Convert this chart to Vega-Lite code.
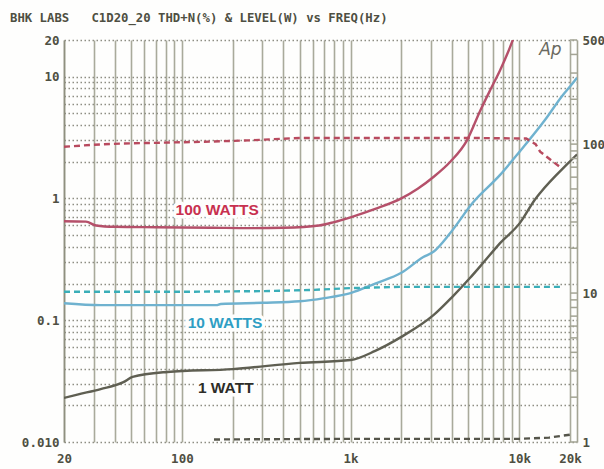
{
  "$schema": "https://vega.github.io/schema/vega-lite/v6.json",
  "width": 513,
  "height": 402,
  "autosize": {"type": "none"},
  "padding": {"left": 64, "top": 40, "right": 27, "bottom": 27},
  "background": "#fefefd",
  "title": {
    "text": "BHK LABS\u00a0\u00a0\u00a0C1D20_20 THD+N(%) & LEVEL(W) vs FREQ(Hz)",
    "anchor": "start",
    "frame": "group",
    "dx": -54,
    "offset": 10,
    "font": "DejaVu Sans Mono",
    "fontSize": 12.3,
    "fontWeight": "bold",
    "color": "#4e4f42"
  },
  "config": {
    "view": {"stroke": null},
    "axis": {
      "labelFont": "DejaVu Sans Mono",
      "labelFontSize": 12.5,
      "labelFontWeight": "bold",
      "labelColor": "#4e4f42",
      "ticks": false,
      "title": null,
      "labelOverlap": false
    }
  },
  "datasets": {
    "thd": [
      {"f": 20, "v": 0.65, "s": "100 W"},
      {"f": 27, "v": 0.645, "s": "100 W"},
      {"f": 31, "v": 0.6, "s": "100 W"},
      {"f": 40, "v": 0.585, "s": "100 W"},
      {"f": 70, "v": 0.58, "s": "100 W"},
      {"f": 150, "v": 0.575, "s": "100 W"},
      {"f": 250, "v": 0.57, "s": "100 W"},
      {"f": 400, "v": 0.575, "s": "100 W"},
      {"f": 650, "v": 0.6, "s": "100 W"},
      {"f": 800, "v": 0.64, "s": "100 W"},
      {"f": 1000, "v": 0.7, "s": "100 W"},
      {"f": 1400, "v": 0.82, "s": "100 W"},
      {"f": 2000, "v": 1.0, "s": "100 W"},
      {"f": 2500, "v": 1.2, "s": "100 W"},
      {"f": 3100, "v": 1.5, "s": "100 W"},
      {"f": 3900, "v": 2.0, "s": "100 W"},
      {"f": 4900, "v": 3.0, "s": "100 W"},
      {"f": 5850, "v": 5.2, "s": "100 W"},
      {"f": 6800, "v": 8, "s": "100 W"},
      {"f": 7700, "v": 11.3, "s": "100 W"},
      {"f": 8600, "v": 16, "s": "100 W"},
      {"f": 9400, "v": 22, "s": "100 W"},
      {"f": 20, "v": 0.138, "s": "10 W"},
      {"f": 33, "v": 0.133, "s": "10 W"},
      {"f": 100, "v": 0.133, "s": "10 W"},
      {"f": 160, "v": 0.133, "s": "10 W"},
      {"f": 170, "v": 0.136, "s": "10 W"},
      {"f": 300, "v": 0.139, "s": "10 W"},
      {"f": 500, "v": 0.143, "s": "10 W"},
      {"f": 700, "v": 0.152, "s": "10 W"},
      {"f": 1000, "v": 0.167, "s": "10 W"},
      {"f": 1400, "v": 0.2, "s": "10 W"},
      {"f": 2000, "v": 0.245, "s": "10 W"},
      {"f": 2700, "v": 0.33, "s": "10 W"},
      {"f": 3100, "v": 0.365, "s": "10 W"},
      {"f": 3900, "v": 0.52, "s": "10 W"},
      {"f": 5300, "v": 0.92, "s": "10 W"},
      {"f": 7700, "v": 1.56, "s": "10 W"},
      {"f": 10000, "v": 2.4, "s": "10 W"},
      {"f": 14200, "v": 4.4, "s": "10 W"},
      {"f": 18200, "v": 7.1, "s": "10 W"},
      {"f": 20000, "v": 8.3, "s": "10 W"},
      {"f": 22000, "v": 9.8, "s": "10 W"},
      {"f": 20, "v": 0.023, "s": "1 W"},
      {"f": 24, "v": 0.0245, "s": "1 W"},
      {"f": 33, "v": 0.0272, "s": "1 W"},
      {"f": 45, "v": 0.031, "s": "1 W"},
      {"f": 51, "v": 0.0342, "s": "1 W"},
      {"f": 82, "v": 0.0376, "s": "1 W"},
      {"f": 200, "v": 0.0397, "s": "1 W"},
      {"f": 500, "v": 0.0446, "s": "1 W"},
      {"f": 1000, "v": 0.0471, "s": "1 W"},
      {"f": 1400, "v": 0.056, "s": "1 W"},
      {"f": 2000, "v": 0.073, "s": "1 W"},
      {"f": 3100, "v": 0.11, "s": "1 W"},
      {"f": 4000, "v": 0.155, "s": "1 W"},
      {"f": 5100, "v": 0.222, "s": "1 W"},
      {"f": 6100, "v": 0.295, "s": "1 W"},
      {"f": 7700, "v": 0.43, "s": "1 W"},
      {"f": 10100, "v": 0.63, "s": "1 W"},
      {"f": 12400, "v": 0.98, "s": "1 W"},
      {"f": 13300, "v": 1.11, "s": "1 W"},
      {"f": 19500, "v": 1.95, "s": "1 W"},
      {"f": 22000, "v": 2.3, "s": "1 W"}
    ],
    "lvl": [
      {"f": 20, "w": 96, "s": "100 W"},
      {"f": 30, "w": 99, "s": "100 W"},
      {"f": 45, "w": 101, "s": "100 W"},
      {"f": 70, "w": 102, "s": "100 W"},
      {"f": 150, "w": 104, "s": "100 W"},
      {"f": 250, "w": 106, "s": "100 W"},
      {"f": 500, "w": 110, "s": "100 W"},
      {"f": 1000, "w": 110, "s": "100 W"},
      {"f": 5000, "w": 110, "s": "100 W"},
      {"f": 11000, "w": 109, "s": "100 W"},
      {"f": 12500, "w": 100, "s": "100 W"},
      {"f": 13300, "w": 89, "s": "100 W"},
      {"f": 15000, "w": 80, "s": "100 W"},
      {"f": 17500, "w": 70, "s": "100 W"},
      {"f": 20, "w": 10.2, "s": "10 W"},
      {"f": 100, "w": 10.2, "s": "10 W"},
      {"f": 300, "w": 10.3, "s": "10 W"},
      {"f": 600, "w": 10.5, "s": "10 W"},
      {"f": 1000, "w": 10.8, "s": "10 W"},
      {"f": 2000, "w": 11, "s": "10 W"},
      {"f": 5000, "w": 11, "s": "10 W"},
      {"f": 18000, "w": 11, "s": "10 W"},
      {"f": 155, "w": 1.04, "s": "1 W"},
      {"f": 1000, "w": 1.05, "s": "1 W"},
      {"f": 5000, "w": 1.05, "s": "1 W"},
      {"f": 10000, "w": 1.05, "s": "1 W"},
      {"f": 15000, "w": 1.07, "s": "1 W"},
      {"f": 20000, "w": 1.12, "s": "1 W"}
    ],
    "labels": [
      {"f": 162, "v": 0.8, "t": "100 WATTS", "s": "100 W"},
      {"f": 180, "v": 0.095, "t": "10 WATTS", "s": "10 W"},
      {"f": 182, "v": 0.0277, "t": "1 WATT", "s": "1 W"}
    ],
    "rungs": [
      {"w": 1}, {"w": 2}, {"w": 3}, {"w": 4}, {"w": 5}, {"w": 6}, {"w": 7}, {"w": 8}, {"w": 9},
      {"w": 10}, {"w": 20}, {"w": 30}, {"w": 40}, {"w": 50}, {"w": 60}, {"w": 70}, {"w": 80}, {"w": 90},
      {"w": 100}, {"w": 200}, {"w": 300}, {"w": 400}, {"w": 500}
    ]
  },
  "layer": [
    {
      "layer": [
        {
          "data": {"name": "thd"},
          "mark": {"type": "line", "strokeWidth": 2.4, "clip": true, "interpolate": "monotone"},
          "encoding": {
            "x": {
              "field": "f", "type": "quantitative",
              "scale": {"type": "log", "domain": [20, 22000], "nice": false},
              "axis": {
                "orient": "bottom",
                "values": [20, 30, 40, 50, 60, 70, 80, 90, 100, 200, 300, 400, 500, 600, 700, 800, 900, 1000, 2000, 3000, 4000, 5000, 6000, 7000, 8000, 9000, 10000, 20000],
                "grid": true, "gridColor": "#a9aa9b", "gridWidth": 1.6,
                "domain": false, "labelPadding": 10, "labelFlush": false,
                "labelExpr": "datum.value==20?'20':datum.value==100?'100':datum.value==1000?'1k':datum.value==10000?'10k':datum.value==20000?'20k':''"
              }
            },
            "y": {
              "field": "v", "type": "quantitative",
              "scale": {"type": "log", "domain": [0.01, 20], "nice": false},
              "axis": {
                "orient": "left",
                "values": [0.01, 0.02, 0.03, 0.04, 0.05, 0.06, 0.07, 0.08, 0.09, 0.1, 0.2, 0.3, 0.4, 0.5, 0.6, 0.7, 0.8, 0.9, 1, 2, 3, 4, 5, 6, 7, 8, 9, 10, 20],
                "grid": true, "gridColor": "#8e8e84", "gridDash": [1.5, 2.5], "gridWidth": 1.3,
                "domain": true, "domainColor": "#8f9080", "domainWidth": 1.6,
                "labelPadding": 5, "labelFlush": false,
                "labelExpr": "datum.value==0.01?'0.010':datum.value==0.1?'0.1':datum.value==1?'1':datum.value==10?'10':datum.value==20?'20':''"
              }
            },
            "color": {
              "field": "s", "type": "nominal",
              "scale": {"domain": ["100 W", "10 W", "1 W"], "range": ["#b5506a", "#6fb2cf", "#5f5f52"]},
              "legend": null
            }
          }
        },
        {
          "data": {"name": "labels"},
          "mark": {"type": "text", "font": "Liberation Sans", "fontSize": 15.5, "fontWeight": "bold", "stroke": "#fefefd", "strokeWidth": 7, "strokeJoin": "round", "fill": "#fefefd"},
          "encoding": {
            "x": {"field": "f", "type": "quantitative"},
            "y": {"field": "v", "type": "quantitative"},
            "text": {"field": "t"}
          }
        },
        {
          "data": {"name": "labels"},
          "mark": {"type": "text", "font": "Liberation Sans", "fontSize": 15.5, "fontWeight": "bold"},
          "encoding": {
            "x": {"field": "f", "type": "quantitative"},
            "y": {"field": "v", "type": "quantitative"},
            "text": {"field": "t"},
            "fill": {
              "field": "s", "type": "nominal",
              "scale": {"domain": ["100 W", "10 W", "1 W"], "range": ["#c8304f", "#2f9ec4", "#2d2d28"]},
              "legend": null
            }
          }
        },
        {
          "data": {"values": [{"f": 15300, "v": 16.5, "t": "Ap"}]},
          "mark": {"type": "text", "font": "DejaVu Sans", "fontSize": 17, "fontStyle": "italic", "color": "#6a6a60"},
          "encoding": {
            "x": {"field": "f", "type": "quantitative"},
            "y": {"field": "v", "type": "quantitative"},
            "text": {"field": "t"}
          }
        }
      ]
    },
    {
      "layer": [
        {
          "data": {"name": "lvl"},
          "mark": {"type": "line", "strokeWidth": 2.4, "strokeDash": [6, 4]},
          "encoding": {
            "x": {"field": "f", "type": "quantitative"},
            "y": {
              "field": "w", "type": "quantitative",
              "scale": {"type": "log", "domain": [1, 500], "nice": false},
              "axis": {
                "orient": "right",
                "values": [1, 2, 3, 4, 5, 6, 7, 8, 9, 10, 20, 30, 40, 50, 60, 70, 80, 90, 100, 200, 300, 400, 500],
                "grid": false,
                "domain": true, "domainColor": "#a3a494", "domainWidth": 1.6,
                "labelPadding": 5, "labelFlush": false,
                "labelExpr": "datum.value==1?'1':datum.value==10?'10':datum.value==100?'100':datum.value==500?'500':''"
              }
            },
            "color": {
              "field": "s", "type": "nominal",
              "scale": {"domain": ["100 W", "10 W", "1 W"], "range": ["#b84a5e", "#3aaeb8", "#55554a"]},
              "legend": null
            }
          }
        },
        {
          "data": {"name": "rungs"},
          "mark": {"type": "rule", "color": "#a3a494", "strokeWidth": 1.5},
          "encoding": {
            "x": {"datum": 20000, "type": "quantitative"},
            "x2": {"datum": 22000},
            "y": {"field": "w", "type": "quantitative"}
          }
        }
      ]
    }
  ],
  "resolve": {"scale": {"y": "independent", "color": "independent", "fill": "independent"}}
}
